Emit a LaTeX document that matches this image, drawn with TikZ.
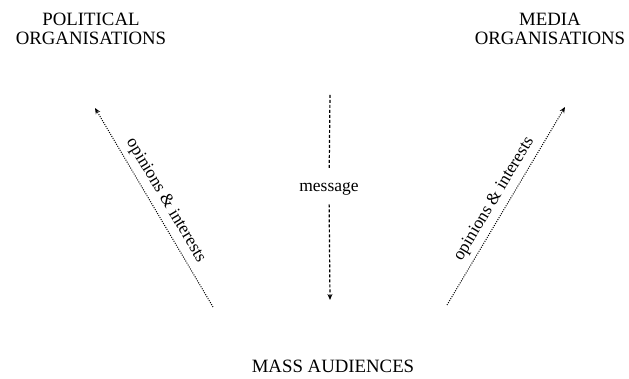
\documentclass[tikz,border=0pt]{standalone}
\usepackage{fontspec}
\setmainfont{Liberation Serif}
\usetikzlibrary{arrows.meta}

\tikzset{
  txt/.style={font=\fontsize{17.5}{19.5}\selectfont},
  caps/.style={font=\fontsize{18.8}{19.5}\selectfont},
  orgs/.style={caps, align=center},
  flow/.style={line width=1pt, dash pattern=on 1pt off 1.3pt, -{Stealth[length=6pt,width=5pt]}},
  msgline/.style={line width=1.2pt, dash pattern=on 3pt off 2pt},
}

\begin{document}
\begin{tikzpicture}[x=1pt,y=1pt]
    \useasboundingbox (0,0) rectangle (629,379);

    % the three parties
    \node[orgs] (pol) at (91,350) {POLITICAL\\ORGANISATIONS};
    \node[orgs] (med) at (550,350) {MEDIA\\ORGANISATIONS};
    \node[caps, anchor=base] (mass) at (333,6) {MASS AUDIENCES};

    % message flowing down the middle
    \node[txt, anchor=base] (msg) at (329,187) {message};
    \coordinate (mtop) at (330,284);
    \coordinate (mbot) at (330,79);
    \draw[msgline, shorten >=10pt] (mtop) -- (msg);
    \draw[msgline, -{Stealth[length=6pt,width=5pt]}, shorten <=5pt] (msg) -- (mbot);

    % opinions going back up
    \coordinate (ltail) at (213,72);
    \coordinate (lhead) at (95,271);
    \coordinate (rtail) at (447,74);
    \coordinate (rhead) at (565,272);
    \draw[flow] (ltail) -- node[txt, sloped, above=2pt, pos=0.5] {opinions \& interests} (lhead);
    \draw[flow] (rtail) -- node[txt, sloped, above=2pt, pos=0.5] {opinions \& interests} (rhead);
\end{tikzpicture}
\end{document}
